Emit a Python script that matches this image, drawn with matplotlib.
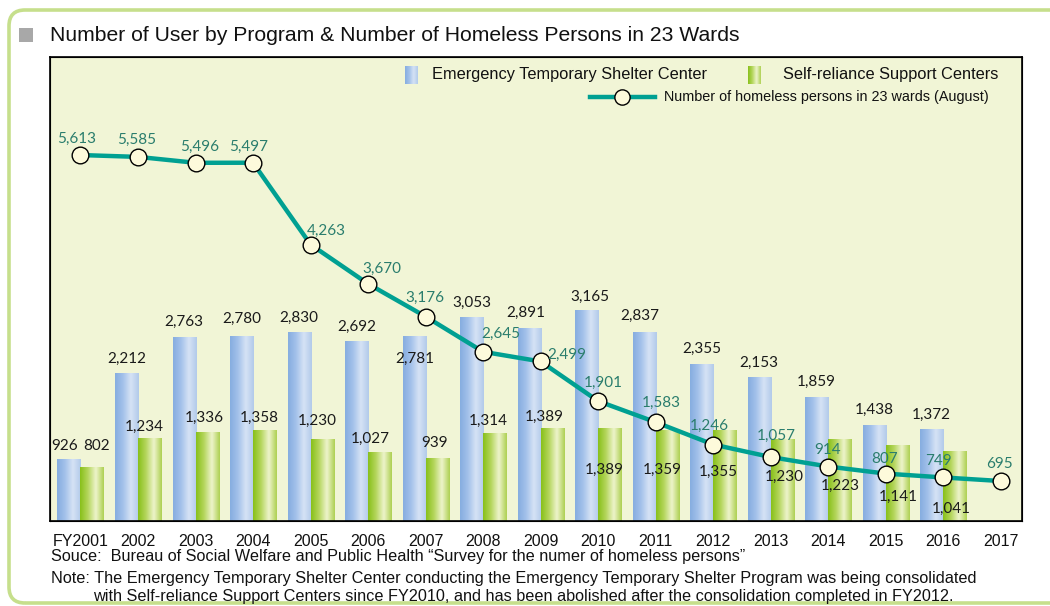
import numpy as np
import matplotlib.pyplot as plt
from matplotlib.patches import FancyBboxPatch, Rectangle
from matplotlib.lines import Line2D
from matplotlib.colors import LinearSegmentedColormap

years = ['FY2001', '2002', '2003', '2004', '2005', '2006', '2007', '2008', '2009',
         '2010', '2011', '2012', '2013', '2014', '2015', '2016', '2017']
# FY2001 - FY2016
shelter = [926, 2212, 2763, 2780, 2830, 2692, 2781, 3053, 2891, 3165, 2837, 2355, 2153, 1859, 1438, 1372]
support = [802, 1234, 1336, 1358, 1230, 1027, 939, 1314, 1389, 1389, 1359, 1355, 1230, 1223, 1141, 1041]
# FY2001 - FY2017
homeless = [5613, 5585, 5496, 5497, 4263, 3670, 3176, 2645, 2499, 1901, 1583, 1246, 1057, 914, 807, 749, 695]

# label offsets in pixels (dx, dy) from bar top / marker
shelter_off = {0: (-4, 13), 6: (1, -23), 8: (-3, 16), 9: (3, 14), 10: (-4, 16), 3: (0, 17)}
support_off = {0: (5, 22), 1: (-5, 12), 2: (-3, 14), 3: (-5, 13), 4: (-5, 18), 5: (-9, 14),
               6: (-3, 16), 7: (-6, 13), 8: (-8, 12), 9: (-5, -41), 10: (-5, -39),
               11: (-6, -41), 12: (2, -38), 13: (1, -46), 14: (1, -52), 15: (-3, -57)}
line_off = [(-4, 16), (-1, 17), (4, 16), (-4, 16), (16, 14), (14, 15), (-1, 19), (18, 18),
            (26, 7), (5, 18), (6, 19), (-4, 19), (6, 21), (-1, 17), (-1, 15), (-5, 16), (-1, 17)]

TEAL = '#00a092'
TEAL_TXT = '#2a7d6d'
BG = '#f1f5d6'
blue_cm = LinearSegmentedColormap.from_list('b', ['#86ade0', '#a3c1ea', '#d6e3f5', '#b2caea'], N=64)
green_cm = LinearSegmentedColormap.from_list('g', ['#88c01a', '#b5d65d', '#eef4cc', '#aed052'], N=64)

label_font = ['Lato', 'DejaVu Sans']
plain = 'Liberation Sans'

W, H = 1050, 606
fig = plt.figure(figsize=(W / 100, H / 100), dpi=100)
fig.patch.set_facecolor('white')


def fx(px):
    return px / W


def fy(py):
    return 1 - py / H


# outer rounded frame
frame = FancyBboxPatch((0.09, 0.03), 11.0, 5.93, boxstyle='round,pad=0,rounding_size=0.16',
                       transform=fig.dpi_scale_trans, facecolor='none', edgecolor='#c6df8c', lw=2.6)
fig.add_artist(frame)

# title
fig.add_artist(Rectangle((fx(19), fy(42)), fx(14), 14 / H, transform=fig.transFigure,
                         facecolor='#a8a8a8', edgecolor='none'))
fig.text(fx(50), fy(41), 'Number of User by Program & Number of Homeless Persons in 23 Wards',
         fontsize=15.2, family=plain, va='baseline', ha='left', color='#111111')

ax = fig.add_axes([fx(50), fy(521), fx(1022) - fx(50), (521 - 57) / H])
ax.set_facecolor(BG)
x = np.arange(len(years))
xb = x[:len(shelter)]
w = 0.4
b1 = ax.bar(xb - w / 2, shelter, width=w, color='none', edgecolor='none')
b2 = ax.bar(xb + w / 2, support, width=w, color='none', edgecolor='none')
grad = np.linspace(0, 1, 64).reshape(1, -1)
for bars, cm in ((b1, blue_cm), (b2, green_cm)):
    for r in bars:
        x0, y0 = r.get_x(), r.get_y()
        ax.imshow(grad, extent=[x0, x0 + r.get_width(), y0, y0 + r.get_height()],
                  aspect='auto', cmap=cm, zorder=2, interpolation='bicubic')
ax.set_xlim(-0.53, 16.37)
ax.set_ylim(0, 6977)
ax.set_xticks(x, years)
ax.tick_params(axis='x', length=0, pad=9)
ax.set_yticks([])
for lab in ax.get_xticklabels():
    lab.set_family(plain)
    lab.set_fontsize(11.5)
    lab.set_color('#111111')
for s in ax.spines.values():
    s.set_color('black')
    s.set_linewidth(1.2)

ax2 = ax.twinx()
ax2.set_ylim(92, 7092)
ax2.set_yticks([])
ax2.plot(x, homeless, color=TEAL, lw=3.2, marker='o', ms=12, mfc='#fdfadb', mec='black',
         mew=1.0, zorder=3)

for i, r in enumerate(b1):
    dx, dy = shelter_off.get(i, (0, 15))
    ax2.annotate(f'{shelter[i]:,}', (r.get_x() + r.get_width() / 2, r.get_height()),
                 xycoords=ax.transData, xytext=(dx, dy), textcoords='offset pixels',
                 ha='center', va='center', fontsize=11, family=label_font, color='#1a1a1a', zorder=5)
for i, r in enumerate(b2):
    dx, dy = support_off.get(i, (0, 15))
    ax2.annotate(f'{support[i]:,}', (r.get_x() + r.get_width() / 2, r.get_height()),
                 xycoords=ax.transData, xytext=(dx, dy), textcoords='offset pixels',
                 ha='center', va='center', fontsize=11, family=label_font, color='#1a1a1a', zorder=5)
for i, v in enumerate(homeless):
    dx, dy = line_off[i]
    ax2.annotate(f'{v:,}', (x[i], v), xytext=(dx, dy), textcoords='offset pixels',
                 ha='center', va='center', fontsize=11, family=label_font, color=TEAL_TXT, zorder=5)

# legend
for (px, cm) in ((405, blue_cm), (748, green_cm)):
    lax = fig.add_axes([fx(px), fy(84), fx(13), 18 / H])
    lax.imshow(grad, aspect='auto', cmap=cm, interpolation='bicubic')
    lax.set_axis_off()
fig.text(fx(432), fy(75), 'Emergency Temporary Shelter Center', fontsize=11.8,
         family=plain, va='center', ha='left', color='#111111')
fig.text(fx(783), fy(75), 'Self-reliance Support Centers', fontsize=11.8,
         family=plain, va='center', ha='left', color='#111111')
fig.add_artist(Line2D([fx(590), fx(655)], [fy(97), fy(97)], transform=fig.transFigure,
                      color=TEAL, lw=3.2))
fig.add_artist(Line2D([fx(622)], [fy(97)], transform=fig.transFigure, marker='o', ms=11,
                      mfc='#fdfadb', mec='black', mew=1.0, lw=0))
fig.text(fx(664), fy(97), 'Number of homeless persons in 23 wards (August)', fontsize=10.4,
         family=plain, va='center', ha='left', color='#111111')

# notes
fig.text(fx(51), fy(556), 'Souce:  Bureau of Social Welfare and Public Health \u201cSurvey for the numer of homeless persons\u201d',
         fontsize=11.7, family=plain, va='center', ha='left', color='#111111')
fig.text(fx(51), fy(578), 'Note: The Emergency Temporary Shelter Center conducting the Emergency Temporary Shelter Program was being consolidated',
         fontsize=11.7, family=plain, va='center', ha='left', color='#111111')
fig.text(fx(93), fy(597), 'with Self-reliance Support Centers since FY2010, and has been abolished after the consolidation completed in FY2012.',
         fontsize=11.7, family=plain, va='center', ha='left', color='#111111')

fig.savefig('out.png', dpi=100)
